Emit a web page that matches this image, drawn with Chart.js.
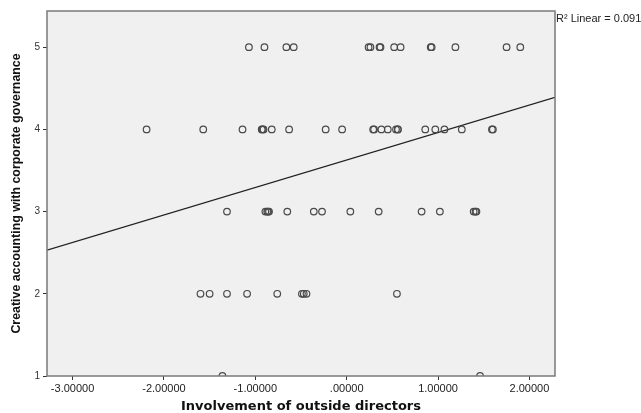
<!DOCTYPE html>
<html>
<head>
<meta charset="utf-8">
<script src="https://cdn.jsdelivr.net/npm/chart.js@4/dist/chart.umd.min.js"></script>
<style>
  html, body { margin: 0; padding: 0; background: #fff; }
  #wrap { width: 641px; height: 413px; position: relative; }
</style>
</head>
<body>
<div id="wrap"><canvas id="c"></canvas></div>
<script>
/* ==== data ========================================================= */
// x values for each response level (y = 5, 4, 3, 2, 1)
const x5 = [-1.07, -0.90, -0.66, -0.58, 0.24, 0.26, 0.36, 0.37, 0.52, 0.59, 0.92, 0.93, 1.19, 1.75, 1.90];
const x4 = [-2.19, -1.57, -1.14, -0.93, -0.92, -0.91, -0.82, -0.63, -0.23, -0.05, 0.29, 0.30, 0.38, 0.45, 0.54, 0.56, 0.56, 0.86, 0.97, 1.07, 1.26, 1.59, 1.60];
const x3 = [-1.31, -0.89, -0.87, -0.86, -0.85, -0.65, -0.36, -0.27, 0.04, 0.35, 0.82, 1.02, 1.39, 1.41, 1.42];
const x2 = [-1.60, -1.50, -1.31, -1.09, -0.76, -0.49, -0.47, -0.44, 0.55];
const x1 = [-1.36, 1.46];

// fit line end points
const fitX = [-3.28, 2.28];
const fitY = [2.53, 4.39];
const r2Label = 'R\u00B2 Linear = 0.091';

const xTicks = [-3, -2, -1, 0, 1, 2];
const yTicks = [1, 2, 3, 4, 5];
const xTitle = 'Involvement of outside directors';
const yTitle = 'Creative accounting with corporate governance';

/* ==== helpers ====================================================== */
const rows = [[5, x5], [4, x4], [3, x3], [2, x2], [1, x1]];
const points = rows.flatMap(([y, xs]) => xs.map(x => ({ x, y })));
const fmtX = v => v === 0 ? '.00000' : v.toFixed(5);

// grey plot area + frame + r2 label
const frame = {
  id: 'frame',
  beforeDraw(chart) {
    const { ctx, chartArea: a } = chart;
    ctx.save();
    ctx.fillStyle = '#f0f0f0';
    ctx.fillRect(a.left, a.top, a.right - a.left, a.bottom - a.top);
    ctx.restore();
  },
  afterDraw(chart) {
    const { ctx, chartArea: a } = chart;
    ctx.save();
    ctx.strokeStyle = '#7a7a7a';
    ctx.lineWidth = 1.5;
    ctx.strokeRect(a.left, a.top, a.right - a.left, a.bottom - a.top);
    ctx.fillStyle = '#222';
    ctx.font = '11px "Liberation Sans", Arial, sans-serif';
    ctx.textBaseline = 'middle';
    ctx.fillText(r2Label, a.right + 1, a.top + 8);
    ctx.restore();
  }
};

/* ==== chart ======================================================== */
new Chart(document.getElementById('c'), {
  type: 'scatter',
  data: {
    datasets: [
      {
        data: points,
        pointStyle: 'circle',
        pointRadius: 3.3,
        pointBorderWidth: 1.2,
        pointBorderColor: '#4a4a4a',
        pointBackgroundColor: 'rgba(0,0,0,0)',
        clip: 0
      },
      {
        type: 'line',
        data: fitX.map((x, i) => ({ x, y: fitY[i] })),
        borderColor: '#222',
        borderWidth: 1.3,
        pointRadius: 0,
        clip: 0
      }
    ]
  },
  plugins: [frame],
  options: {
    responsive: true, maintainAspectRatio: false, animation: false,
    layout: { padding: { left: 0, right: 86, top: 11, bottom: 0 } },
    plugins: { legend: { display: false }, tooltip: { enabled: false } },
    scales: {
      x: {
        type: 'linear', min: -3.28, max: 2.28,
        afterBuildTicks: s => { s.ticks = xTicks.map(value => ({ value })); },
        afterFit: s => { s.height = 37; },
        border: { display: false },
        grid: { drawOnChartArea: false, drawTicks: true, tickLength: 4, tickColor: '#333' },
        ticks: { callback: fmtX, color: '#222', padding: 2, maxRotation: 0, autoSkip: false,
                 font: { family: '"Liberation Sans", Arial, sans-serif', size: 11 } },
        title: { display: true, text: xTitle, color: '#111', padding: { top: 0, bottom: 0 },
                 font: { family: '"DejaVu Sans", Verdana, sans-serif', size: 13, weight: 'bold', lineHeight: 1 } }
      },
      y: {
        type: 'linear', min: 1, max: 5.44,
        afterBuildTicks: s => { s.ticks = yTicks.map(value => ({ value })); },
        afterFit: s => { s.width = 47; },
        border: { display: false },
        grid: { drawOnChartArea: false, drawTicks: true, tickLength: 4, tickColor: '#333' },
        ticks: { color: '#333', padding: 3, autoSkip: false,
                 font: { family: '"Liberation Sans", Arial, sans-serif', size: 10 } },
        title: { display: true, text: yTitle, color: '#111', padding: { top: 9, bottom: 0 },
                 font: { family: '"Liberation Sans", Arial, sans-serif', size: 12.4, weight: 'bold', lineHeight: 1.2 } }
      }
    }
  }
});
</script>
</body>
</html>
